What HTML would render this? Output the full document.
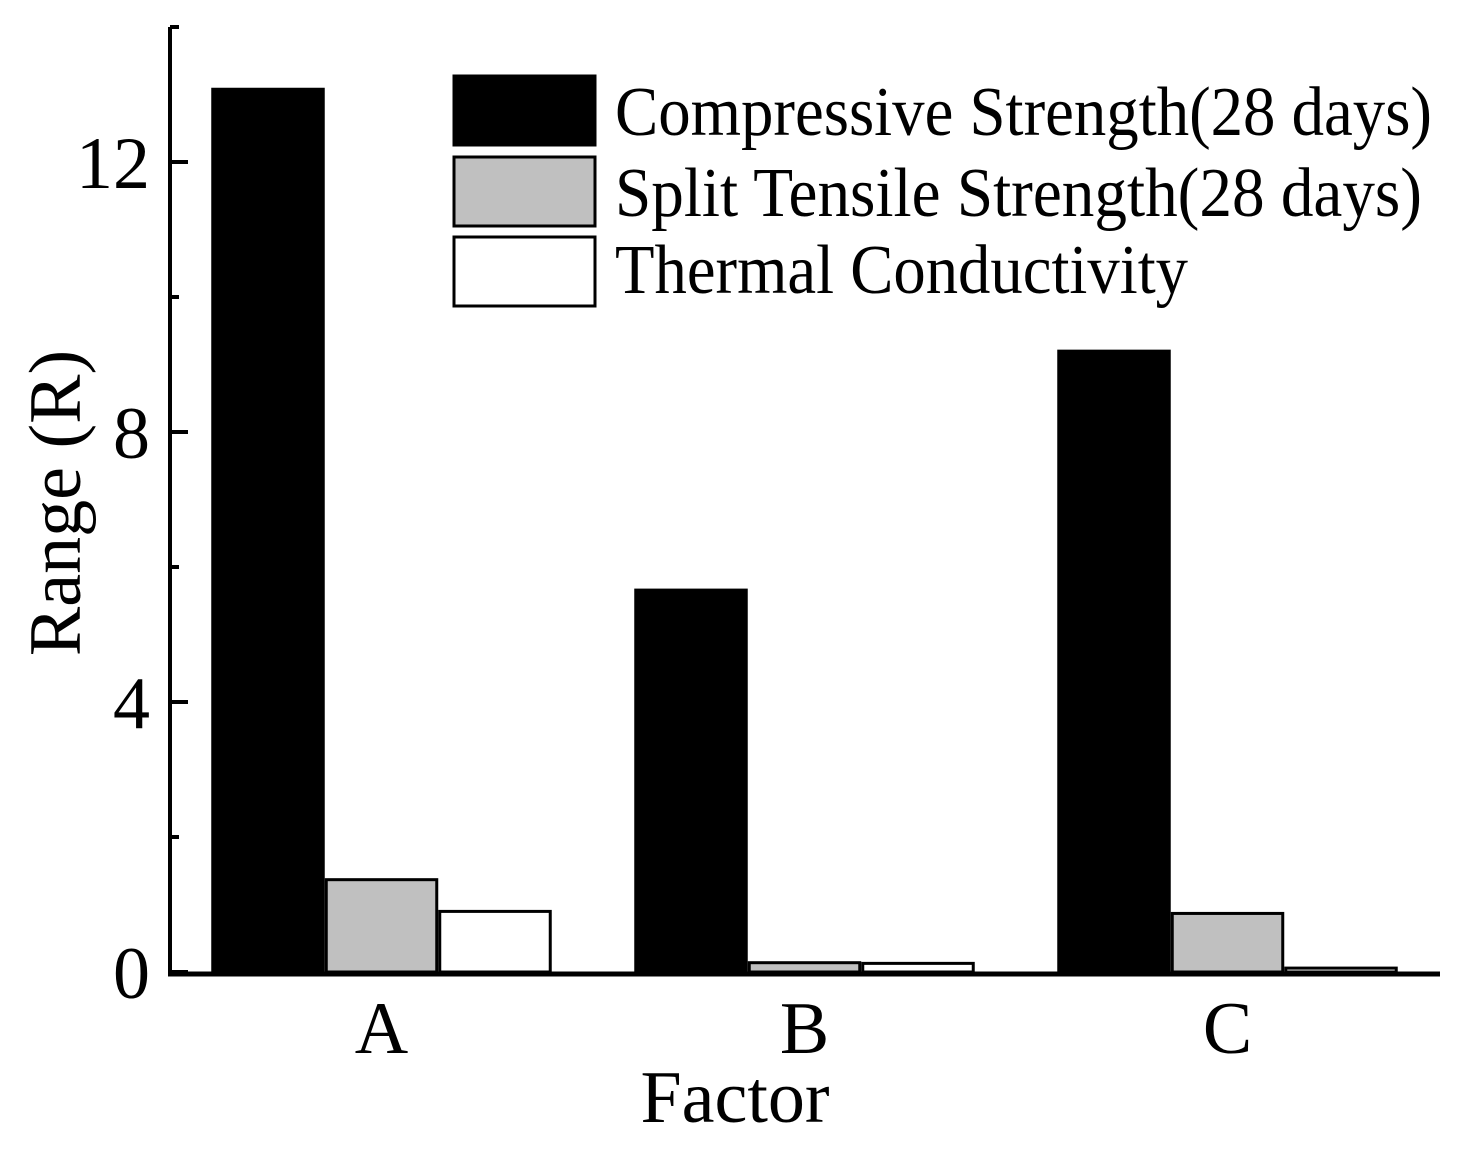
<!DOCTYPE html>
<html><head><meta charset="utf-8"><style>
html,body{margin:0;padding:0;background:#fff}
svg text{font-family:"Liberation Serif",serif;fill:#000}
</style></head><body>
<svg id="chart" width="1463" height="1152" viewBox="0 0 1463 1152" xmlns="http://www.w3.org/2000/svg">
<g id="bars"></g>
<g id="axes"></g>
<g id="legend"></g>
</svg>
<script>
const categories = ["A", "B", "C"];
const compressive = [13.1, 5.68, 9.22];
const splitTensile = [1.39, 0.16, 0.89];
const thermal = [0.92, 0.15, 0.08];
const yTicks = [0, 2, 4, 6, 8, 10, 12, 14];
const yTickLabels = ["0", "", "4", "", "8", "", "12", ""];
const seriesNames = ["Compressive Strength(28 days)", "Split Tensile Strength(28 days)", "Thermal Conductivity"];

const NS = "http://www.w3.org/2000/svg";
const X0 = 170, X1 = 1440, Y0 = 972, YMAX = 14, PXU = 67.5;
const band = 423;
function yS(v){ return Y0 - v * PXU; }
function xC(i){ return X0 + (i + 0.5) * band; }
function mk(tag, attrs, parent){
  const e = document.createElementNS(NS, tag);
  for (const k in attrs) e.setAttribute(k, attrs[k]);
  parent.appendChild(e); return e;
}
const fills = ["#000", "#c0c0c0", "#fff"];
const series = [compressive, splitTensile, thermal];
const bw = 113.5;
const gBars = document.getElementById("bars");
series.forEach((s, si) => {
  s.forEach((v, i) => {
    const x = xC(i) - 1.5 * bw + si * bw;
    const r = mk("rect", {x: x + 1.5, y: yS(v) + 1.5, width: bw - 3, height: Math.max(0, Y0 - yS(v) - 1.5), fill: fills[si], stroke: "#000", "stroke-width": 3}, gBars);
    
    
  });
});
const gAx = document.getElementById("axes");
const ya = mk("line", {x1: X0, y1: yS(YMAX), x2: X0, y2: Y0 + 2, stroke: "#000", "stroke-width": 4}, gAx);


const xa = mk("line", {x1: X0 - 2, y1: Y0 + 2, x2: X1, y2: Y0 + 2, stroke: "#000", "stroke-width": 5}, gAx);


yTicks.forEach((t, i) => {
  const major = yTickLabels[i] !== "";
  const tk = mk("line", {x1: X0, y1: yS(t), x2: X0 + (major ? 18 : 9), y2: yS(t), stroke: "#000", "stroke-width": 4}, gAx);
  
  
  if (major) {
    const tl = mk("text", {x: 150, y: yS(t) + 26, "text-anchor": "end", "font-size": 74}, gAx);
    tl.textContent = yTickLabels[i];
    
    
  }
});
categories.forEach((c, i) => {
  const t = mk("text", {x: xC(i), y: 1053, "text-anchor": "middle", "font-size": 74}, gAx);
  t.textContent = c;
  
  
});
const xt = mk("text", {x: 735, y: 1122, "text-anchor": "middle", "font-size": 74}, gAx);
xt.textContent = "Factor";


const yt = mk("text", {x: 0, y: 0, "text-anchor": "middle", "font-size": 74, transform: "translate(80,503) rotate(-90)"}, gAx);
yt.textContent = "Range (R)";



const gLeg = document.getElementById("legend");
const swY = [74, 155, 235], txY = [135, 216, 293], txW = [817, 807, 573];
seriesNames.forEach((n, i) => {
  const r = mk("rect", {x: 454, y: swY[i] + 2, width: 141, height: 69, fill: fills[i], stroke: "#000", "stroke-width": 3}, gLeg);
  
  
  const t = mk("text", {x: 615, y: txY[i], "font-size": 70, textLength: txW[i], lengthAdjust: "spacingAndGlyphs"}, gLeg);
  t.textContent = n;
  
  
});
</script>
</body></html>
